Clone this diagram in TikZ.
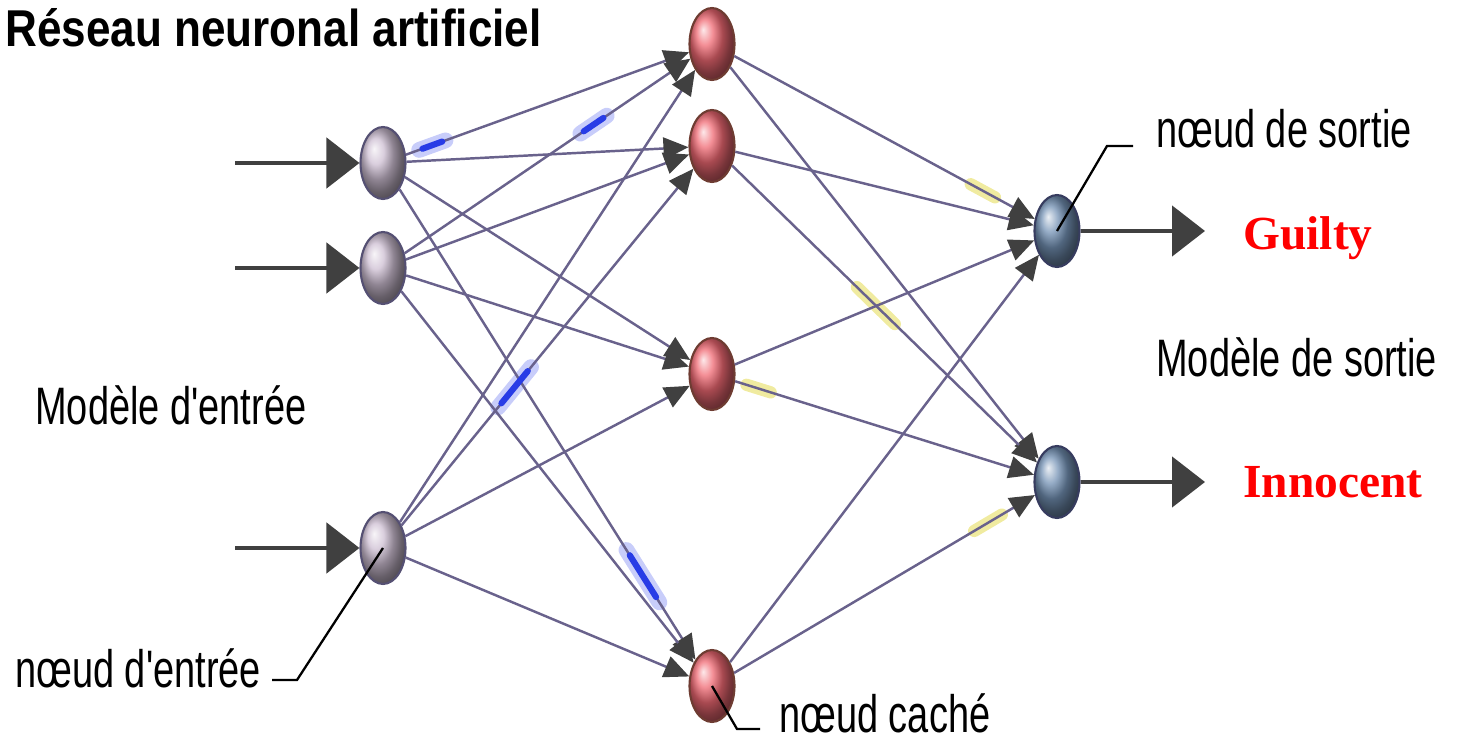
\documentclass[tikz,border=0pt]{standalone}
\usepackage{fontspec}
\usepackage{tikz}
\usetikzlibrary{arrows.meta}
\usetikzlibrary{calc}
\usetikzlibrary{shapes.geometric}
\setmainfont{Liberation Sans}
\newfontfamily\labelfont{Liberation Sans}[FakeStretch=0.72]
\newfontfamily\titlefont{Liberation Sans}[FakeStretch=0.85]
\newfontfamily\verdictfont{Liberation Serif}
\definecolor{edgegray}{RGB}{105,98,140}
\definecolor{tipgray}{RGB}{64,64,64}
\definecolor{inball}{RGB}{205,190,210}
\definecolor{inline}{RGB}{85,80,115}
\definecolor{hidball}{RGB}{240,105,115}
\definecolor{hidline}{RGB}{110,60,50}
\definecolor{outball}{RGB}{115,145,180}
\definecolor{outline}{RGB}{55,60,95}
\definecolor{pulseblue}{RGB}{40,60,230}
\definecolor{pulsehalo}{RGB}{200,205,250}
\definecolor{glowyellow}{RGB}{240,235,160}
\tikzset {
  % neuron, common to the three layers
  neuron/.style = {ellipse, draw, line width=1.2pt, inner sep=0pt,
    minimum width=0.9cm, minimum height=1.44cm},
  % input, hidden and output neurons
  innode/.style={neuron, draw=inline, ball color=inball},
  hidnode/.style={neuron, draw=hidline, ball color=hidball},
  outnode/.style={neuron, draw=outline, ball color=outball},
  % weighted connections between layers
  link/.style={edgegray, line width=1.4pt,
    -{Triangle[length=0.5cm, width=0.44cm, color=tipgray]}},
  % signals coming in and going out
  feed/.style={tipgray, line width=2.8pt, -{Triangle[length=0.66cm, width=1.0cm]}},
  % signal pulses and glows on some links
  halo/.style={pulsehalo, line width=9pt, line cap=round},
  pulse/.style={pulseblue, line width=3.5pt, line cap=round},
  glow/.style={glowyellow, line width=7pt, line cap=round},
  % callouts pointing to a neuron
  leader/.style={black, line width=1.3pt},
  lbl/.style={anchor=base west, inner sep=0pt, font=\labelfont\fontsize{30}{36}\selectfont},
  heading/.style={anchor=base west, inner sep=0pt, font=\titlefont\bfseries\fontsize{29.5}{35}\selectfont},
  verdict/.style={anchor=base west, inner sep=0pt, text=red, font=\verdictfont\bfseries\fontsize{27}{32}\selectfont},
}

\begin{document}
\begin{tikzpicture}[x=0.02cm, y=-0.02cm]
      \useasboundingbox (0,0) rectangle (1458,749);

      \node[innode] (i1) at (383,163) {};
      \node[innode] (i2) at (383,268) {};
      \node[innode] (i3) at (383,548) {};
      \node[hidnode] (h1) at (712,44) {};
      \node[hidnode] (h2) at (712,146) {};
      \node[hidnode] (h3) at (712,374) {};
      \node[hidnode] (h4) at (712,686) {};
      \node[outnode] (o1) at (1057,231) {};
      \node[outnode] (o2) at (1057,482) {};

      % yellow glows and blue halos under the links
      \draw[glow] ($(h1)!0.75!(o1)$) -- ($(h1)!0.82!(o1)$);
      \draw[glow] ($(h2)!0.42!(o2)$) -- ($(h2)!0.53!(o2)$);
      \draw[glow] ($(h3)!0.10!(o2)$) -- ($(h3)!0.17!(o2)$);
      \draw[glow] ($(h4)!0.76!(o2)$) -- ($(h4)!0.84!(o2)$);
      \draw[halo] ($(i1)!0.11!(h1)$) -- ($(i1)!0.19!(h1)$);
      \draw[halo] ($(i2)!0.60!(h1)$) -- ($(i2)!0.68!(h1)$);
      \draw[halo] ($(i3)!0.35!(h2)$) -- ($(i3)!0.45!(h2)$);
      \draw[halo] ($(i1)!0.74!(h4)$) -- ($(i1)!0.84!(h4)$);

      \foreach \i in {1,2,3}
        \foreach \h in {1,...,4}
          \draw[link] (i\i) -- (h\h);
      \foreach \h in {1,...,4}
        \foreach \o in {1,2}
          \draw[link] (h\h) -- (o\o);

      % blue pulses on the links
      \draw[pulse] ($(i1)!0.12!(h1)$) -- ($(i1)!0.18!(h1)$);
      \draw[pulse] ($(i2)!0.61!(h1)$) -- ($(i2)!0.67!(h1)$);
      \draw[pulse] ($(i3)!0.36!(h2)$) -- ($(i3)!0.44!(h2)$);
      \draw[pulse] ($(i1)!0.75!(h4)$) -- ($(i1)!0.83!(h4)$);

      \coordinate (s1) at (235,163);
      \coordinate (s2) at (235,268);
      \coordinate (s3) at (235,548);
      \coordinate (e1) at (1205,231);
      \coordinate (e2) at (1205,482);
      \draw[feed] (s1) -- (i1);
      \draw[feed] (s2) -- (i2);
      \draw[feed] (s3) -- (i3);
      \draw[feed] (o1) -- (e1);
      \draw[feed] (o2) -- (e2);

      \coordinate (k1) at (297,680);
      \coordinate (k1e) at (272,680);
      \coordinate (k2) at (737,729);
      \coordinate (k2e) at (760,729);
      \coordinate (k3) at (1107,146);
      \coordinate (k3e) at (1133,146);
      \draw[leader] (i3.center) -- (k1) -- (k1e);
      \draw[leader] (h4.center) -- (k2) -- (k2e);
      \draw[leader] (o1.center) -- (k3) -- (k3e);

      \node[heading] (title) at (5,47) {Réseau neuronal artificiel};
      \node[lbl] (modin) at (35,425) {Modèle d'entrée};
      \node[lbl] (nodein) at (15,688) {nœud d'entrée};
      \node[lbl] (nodehid) at (779,733) {nœud caché};
      \node[lbl] (nodeout) at (1156,148) {nœud de sortie};
      \node[lbl] (modout) at (1156,377) {Modèle de sortie};
      \node[verdict] (guilty) at (1243,250) {Guilty};
      \node[verdict] (innocent) at (1243,498) {Innocent};
    \end{tikzpicture}
\end{document}
